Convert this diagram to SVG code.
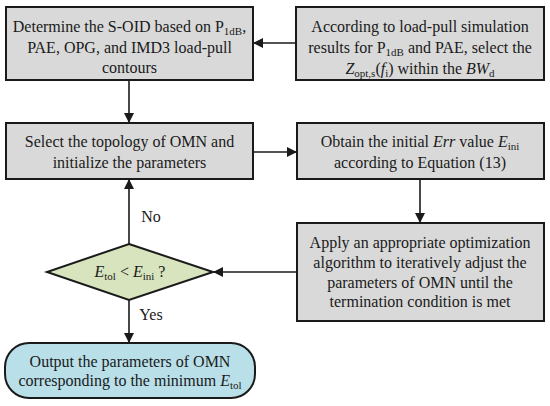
<svg xmlns="http://www.w3.org/2000/svg" width="550" height="406" viewBox="0 0 550 406">
<style>
.box{fill:#d9d9d9;stroke:#1a1a1a;stroke-width:2}
.dia{fill:#d7e4bd;stroke:#1a1a1a;stroke-width:2}
.term{fill:#b9dfe9;stroke:#1a1a1a;stroke-width:2}
text{font-family:"Liberation Serif","Times New Roman",serif;font-size:16px;fill:#1a1a1a;text-anchor:middle}
.sub{font-size:11px}
.it{font-style:italic}
.conn line{stroke:#1a1a1a;stroke-width:1.6}
</style>
<defs>
<marker id="ah" markerWidth="10" markerHeight="10" refX="9" refY="5" orient="auto" markerUnits="userSpaceOnUse">
<path d="M0,0 L10,5 L0,10 Z" fill="#1a1a1a"/>
</marker>
</defs>
<rect width="550" height="406" fill="#ffffff"/>
<g id="n1">
<rect class="box" x="6" y="7" width="247" height="73"/>
<text x="129.5" y="32">Determine the S-OID based on P<tspan class="sub" dy="3">1dB</tspan><tspan dy="-3">,</tspan></text>
<text x="129.5" y="53">PAE, OPG, and IMD3 load-pull</text>
<text x="129.5" y="73">contours</text>
</g>
<g id="n2">
<rect class="box" x="296" y="7" width="248" height="73"/>
<text x="420" y="32">According to load-pull simulation</text>
<text x="420" y="53">results for P<tspan class="sub" dy="3">1dB</tspan><tspan dy="-3"> and PAE, select the</tspan></text>
<text x="420" y="74"><tspan class="it">Z</tspan><tspan class="sub" dy="3">opt,s</tspan><tspan dy="-3">(</tspan><tspan class="it">f</tspan><tspan class="sub" dy="3">i</tspan><tspan dy="-3">) within the </tspan><tspan class="it">BW</tspan><tspan class="sub" dy="3">d</tspan></text>
</g>
<g id="n3">
<rect class="box" x="6" y="123" width="247" height="56"/>
<text x="129.5" y="147">Select the topology of OMN and</text>
<text x="129.5" y="168">initialize the parameters</text>
</g>
<g id="n4">
<rect class="box" x="297" y="123" width="247" height="56"/>
<text x="420" y="147">Obtain the initial <tspan class="it">Err</tspan> value <tspan class="it">E</tspan><tspan class="sub" dy="3">ini</tspan></text>
<text x="420" y="168">according to Equation (13)</text>
</g>
<g id="n5">
<rect class="box" x="297" y="223" width="247" height="98"/>
<text x="420" y="248">Apply an appropriate optimization</text>
<text x="420" y="268">algorithm to iteratively adjust the</text>
<text x="420" y="288">parameters of OMN until the</text>
<text x="420" y="307">termination condition is met</text>
</g>
<g id="n6">
<polygon class="dia" points="129,244 213,272 129,300 47,272"/>
<text x="130" y="277"><tspan class="it">E</tspan><tspan class="sub" dy="3">tol</tspan><tspan dy="-3"> &lt; </tspan><tspan class="it">E</tspan><tspan class="sub" dy="3">ini</tspan><tspan dy="-3"> ?</tspan></text>
</g>
<g id="n7">
<rect class="term" x="5" y="343" width="250" height="55" rx="24" ry="24"/>
<text x="130" y="367">Output the parameters of OMN</text>
<text x="130" y="386">corresponding to the minimum <tspan class="it">E</tspan><tspan class="sub" dy="3">tol</tspan></text>
</g>
<g id="connectors" class="conn">
<line x1="296" y1="43" x2="254" y2="43" marker-end="url(#ah)"/>
<line x1="129" y1="80" x2="129" y2="122" marker-end="url(#ah)"/>
<line x1="253" y1="152" x2="296" y2="152" marker-end="url(#ah)"/>
<line x1="420" y1="179" x2="420" y2="222" marker-end="url(#ah)"/>
<line x1="297" y1="272" x2="214" y2="272" marker-end="url(#ah)"/>
<line x1="129" y1="244" x2="129" y2="180" marker-end="url(#ah)"/>
<line x1="129" y1="300" x2="129" y2="342" marker-end="url(#ah)"/>
<text x="151" y="222">No</text>
<text x="151" y="320">Yes</text>
</g>
</svg>
